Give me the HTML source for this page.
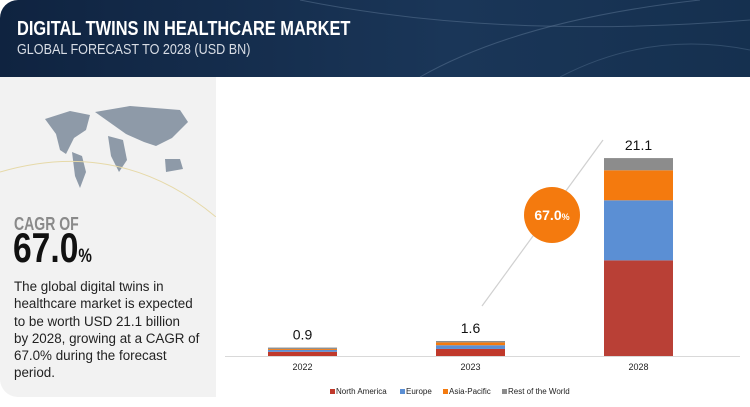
<!DOCTYPE html>
<html><head><meta charset="utf-8"><style>
body{margin:0;width:750px;height:407px;overflow:hidden;background:#fff;font-family:"Liberation Sans",sans-serif;position:relative}
#hdr{position:absolute;left:0;top:0;width:750px;height:77px;background:linear-gradient(90deg,#0f2340,#1a3658 60%,#15304f);border-top-left-radius:18px}
#t1{position:absolute;left:17px;top:18px;color:#fff;font-size:20px;font-weight:bold;transform:scaleX(0.82);transform-origin:left;white-space:nowrap}
#t2{position:absolute;left:17px;top:41px;color:#d8dde5;font-size:15px;transform:scaleX(0.84);transform-origin:left;white-space:nowrap}
#left{position:absolute;left:0;top:77px;width:216px;height:320px;background:#f2f2f2;border-bottom-left-radius:18px}
#cagr{position:absolute;left:14px;top:214px;color:#8a8a8a;font-size:18px;font-weight:bold;transform:scaleX(0.78);transform-origin:left;white-space:nowrap}
#big{position:absolute;left:13px;top:224px;font-size:42px;font-weight:bold;color:#111;transform:scaleX(0.8);transform-origin:left;white-space:nowrap}
#big span{font-size:19px}
#desc{position:absolute;left:14px;top:278px;font-size:13.4px;line-height:17.3px;color:#222;white-space:nowrap}
</style></head><body>
<div id="hdr">
<svg width="750" height="77" style="position:absolute;left:0;top:0"><path d="M300 0 Q500 40 750 20" stroke="#5d7896" fill="none" opacity=".5"/><path d="M420 77 Q520 20 700 0" stroke="#5d7896" fill="none" opacity=".5"/><path d="M560 77 Q650 30 750 50" stroke="#5d7896" fill="none" opacity=".4"/></svg>
<div id="t1">DIGITAL TWINS IN HEALTHCARE MARKET</div>
<div id="t2">GLOBAL FORECAST TO 2028 (USD BN)</div>
</div>
<div id="left">
<svg width="216" height="140" style="position:absolute;left:0;top:0">
<g fill="#8e9aa8"><path d="M45 42 l25 -8 l20 4 l-4 15 l-12 8 l-8 16 l-6 -4 l-4 -16 z"/><path d="M72 75 l10 4 l4 16 l-6 16 l-5 -12 z"/><path d="M95 35 l35 -6 l50 4 l8 12 l-16 16 l-16 8 l-12 -4 l-18 -8 z"/><path d="M108 59 l15 4 l4 20 l-8 12 l-8 -16 z"/><path d="M165 82 l15 0 l3 10 l-17 3 z"/></g>
<path d="M0 95 Q120 60 216 140" stroke="#e6d9a8" fill="none"/>
</svg>
</div>
<div id="cagr">CAGR OF</div>
<div id="big">67.0<span>%</span></div>
<div id="desc">The global digital twins in<br>healthcare market is expected<br>to be worth USD 21.1 billion<br>by 2028, growing at a CAGR of<br>67.0% during the forecast<br>period.</div>
<svg id="chart" width="750" height="407" style="position:absolute;left:0;top:0"></svg>
<script>
const years=["2022","2023","2028"];
const northAmerica=[0.45,0.75,10.2];
const europe=[0.2,0.4,6.4];
const asiaPacific=[0.1,0.3,3.2];
const restOfWorld=[0.15,0.15,1.3];
const totals=["0.9","1.6","21.1"];
const seriesNames=["North America","Europe","Asia-Pacific","Rest of the World"];
const colors=["#c0392b","#5b8fd4","#f47a0e","#8c8c8c"];
const NS="http://www.w3.org/2000/svg";
const svg=document.getElementById('chart');
const base=356, scale=9.38, x0=268, step=168, bw=69;
const y=v=>base-v*scale;
const xc=i=>x0+i*step;
function mk(t,a){const e=document.createElementNS(NS,t);for(const k in a)e.setAttribute(k,a[k]);svg.appendChild(e);return e;}
const ax=mk('line',{x1:225,x2:740,y1:base+0.5,y2:base+0.5,stroke:'#d9d9d9'});


const arr=mk('path',{d:'M482 306 L603 140',stroke:'#d0d0d0','stroke-width':1.2,fill:'none'});


const series=[northAmerica,europe,asiaPacific,restOfWorld];
years.forEach((yr,i)=>{
 let acc=0;
 series.forEach((s,j)=>{
  const r=mk('rect',{x:xc(i),y:y(acc+s[i]),width:bw,height:s[i]*scale,fill:j==0&&i==2?'#b94036':colors[j]});
  
  
  acc+=s[i];
 });
 const t=mk('text',{x:xc(i)+bw/2,y:y(acc)-8,'text-anchor':'middle','font-size':14,fill:'#111'});t.textContent=totals[i];
 
 
 const l=mk('text',{x:xc(i)+bw/2,y:base+14,'text-anchor':'middle','font-size':9,fill:'#222'});l.textContent=yr;
 
 
});
const c=mk('circle',{cx:552,cy:215,r:28,fill:'#f47a0e'});


const ct=mk('text',{x:552,y:220,'text-anchor':'middle','font-size':14,'font-weight':'bold',fill:'#fff'});
ct.innerHTML='67.0<tspan font-size="9">%</tspan>';


const legX=[330,400,443,502];
seriesNames.forEach((n,j)=>{
 const lx=legX[j];
 const sq=mk('rect',{x:lx,y:389,width:5,height:5,fill:colors[j]});
 
 
 const tx=mk('text',{x:lx+6,y:394,'font-size':8,fill:'#222'});tx.textContent=n;
 
 
});
</script>
</body></html>
